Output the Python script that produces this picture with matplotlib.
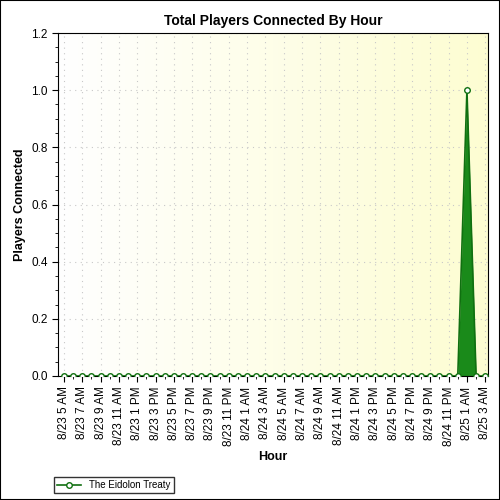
import matplotlib
matplotlib.use("Agg")
import matplotlib.pyplot as plt
import numpy as np
plt.rcParams['font.family'] = ['Liberation Sans', 'DejaVu Sans']

hour_labels = ["5 AM","6 AM","7 AM","8 AM","9 AM","10 AM","11 AM","12 PM","1 PM","2 PM","3 PM","4 PM",
               "5 PM","6 PM","7 PM","8 PM","9 PM","10 PM","11 PM","12 AM","1 AM","2 AM","3 AM","4 AM"]
hours = (["8/23 " + h for h in hour_labels[:19]] + ["8/24 " + h for h in hour_labels[19:]]
         + ["8/24 " + h for h in hour_labels[:19]] + ["8/25 " + h for h in hour_labels[19:23]])
players = [0]*44 + [1.0, 0, 0]
series_name = "The Eidolon Treaty"

fig = plt.figure(figsize=(5, 5), dpi=100)
ax = fig.add_axes([0.116, 0.248, 0.86, 0.686])
x = np.arange(len(hours))
ax.set_xlim(-0.65, 46.3)
ax.set_ylim(0, 1.2)
grad = np.linspace(0, 1, 256)[None, :]
from matplotlib.colors import LinearSegmentedColormap
cm = LinearSegmentedColormap.from_list("g", ["#ffffff", "#fdfdd2"])
ax.imshow(grad, extent=[-0.65, 46.3, 0, 1.2], aspect="auto", cmap=cm, zorder=0)
ax.grid(True, color="#c8c8c8", linestyle=(0, (1, 4)), linewidth=0.8, zorder=1)
ax.fill_between(x, players, 0, color="#1a8a1a", alpha=1, zorder=2, linewidth=0)
ax.plot(x, players, color="#107010", linewidth=1.2, marker="o", markersize=4,
        markerfacecolor="white", markeredgecolor="#107010", zorder=3, label=series_name)
ax.set_xticks(x[::2])
ax.set_xticklabels(hours[::2], rotation=90, fontsize=8.5)
ax.set_xticks(x, minor=True)
ax.set_yticks(np.arange(0, 1.21, 0.2))
ax.set_yticklabels([f"{v:.1f}" for v in np.arange(0, 1.21, 0.2)], fontsize=8.5)
ax.set_yticks(np.arange(0, 1.21, 0.05), minor=True)
ax.tick_params(direction="out", length=4)
ax.tick_params(which="minor", length=2)
ax.set_title("Total Players Connected By Hour", fontsize=10, fontweight="bold")
ax.set_xlabel("Hour", fontsize=9, fontweight="bold")
ax.set_ylabel("Players Connected", fontsize=9, fontweight="bold")
ax.legend(loc="lower left", bbox_to_anchor=(-0.02, -0.355), fontsize=7, frameon=True,
          fancybox=False, edgecolor="black", borderpad=0.3, handlelength=2.5)
fig.patches.append(plt.Rectangle((0, 0), 1, 1, transform=fig.transFigure, fill=False,
                                 edgecolor="black", linewidth=1.5))
fig.savefig("out.png")
